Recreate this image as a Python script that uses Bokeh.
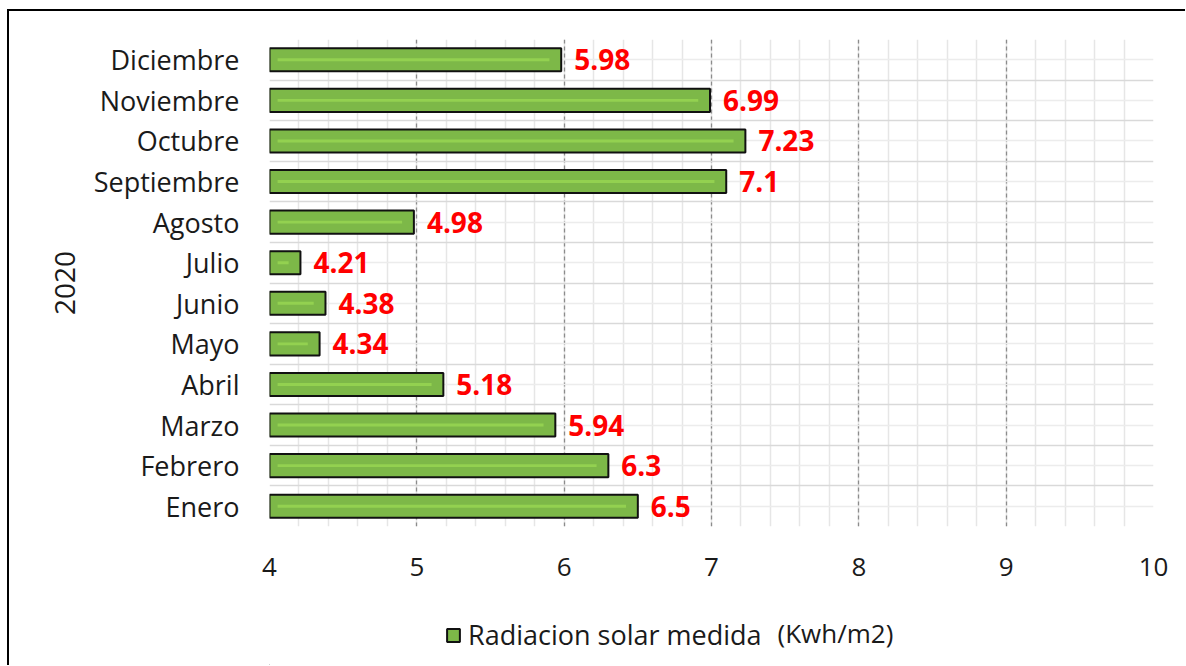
from bokeh.plotting import figure
from bokeh.layouts import column
from bokeh.models import (ColumnDataSource, FixedTicker, Grid, Legend, LegendItem,
                          LabelSet, Label, Range1d)
from bokeh.embed import file_html
from bokeh.resources import INLINE
from bokeh.core.properties import value

months = ["Enero", "Febrero", "Marzo", "Abril", "Mayo", "Junio", "Julio",
          "Agosto", "Septiembre", "Octubre", "Noviembre", "Diciembre"]
radiation = [6.5, 6.3, 5.94, 5.18, 4.34, 4.38, 4.21, 4.98, 7.1, 7.23, 6.99, 5.98]
value_labels = ["6.5", "6.3", "5.94", "5.18", "4.34", "4.38", "4.21", "4.98",
                "7.1", "7.23", "6.99", "5.98"]
x_ticks = [4, 5, 6, 7, 8, 9, 10]
y_axis_title = "2020"
series_name = "Radiacion solar medida"
series_unit = "(Kwh/m2)"

FONT = "Open Sans"
FILL = "#7db848"
n = len(months)
pos = [i + 0.5 for i in range(n)]
base = x_ticks[0]

src = ColumnDataSource(dict(
    y=pos, right=radiation, lab=value_labels,
    s_left=[base + 0.055] * n, s_right=[r - 0.08 for r in radiation],
))

W = 1176
p = figure(width=W, height=590, output_backend="svg", toolbar_location=None,
           x_range=Range1d(4, 10), y_range=Range1d(0, n),
           min_border_left=260, min_border_right=32, min_border_top=28,
           min_border_bottom=75)
p.outline_line_color = None
p.background_fill_color = "white"

# grids
p.xgrid.ticker = FixedTicker(ticks=x_ticks, minor_ticks=[4 + 0.2 * k for k in range(31)])
p.xgrid.grid_line_color = "#8c8c8c"
p.xgrid.grid_line_dash = "4 3"
p.xgrid.grid_line_width = 1.3
p.xgrid.minor_grid_line_color = "#e6e6e6"
p.xgrid.minor_grid_line_width = 1.5
p.ygrid.visible = False
hb = Grid(dimension=1, ticker=FixedTicker(ticks=list(range(n + 1)), minor_ticks=pos),
          grid_line_color="#d9d9d9", grid_line_width=1.5,
          minor_grid_line_color="#ececec", minor_grid_line_width=1.5)
p.add_layout(hb)

bars = p.hbar(y="y", right="right", left=base, height=0.57, source=src,
              fill_color=FILL, line_color="#111111", line_width=2)
p.hbar(y="y", left="s_left", right="s_right", height=0.07, source=src,
       fill_color="#93d150", line_color=None)

labels = LabelSet(x="right", y="y", text="lab", source=src, x_offset=13,
                  text_font=value(FONT), text_font_size="28px", text_font_style="bold",
                  text_color="#ff0000", text_baseline="middle")
p.add_layout(labels)

# axes
p.xaxis.ticker = FixedTicker(ticks=x_ticks)
p.xaxis.axis_line_color = None
p.xaxis.major_tick_line_color = None
p.xaxis.minor_tick_line_color = None
p.xaxis.major_tick_out = 0
p.xaxis.minor_tick_out = 0
p.xaxis.major_label_standoff = 31
p.xaxis.major_label_text_font = FONT
p.xaxis.major_label_text_font_size = "26px"
p.xaxis.major_label_text_color = "#1a1a1a"

p.yaxis.ticker = FixedTicker(ticks=pos)
p.yaxis.major_label_overrides = {pp: m for pp, m in zip(pos, months)}
p.yaxis.axis_line_color = None
p.yaxis.major_tick_line_color = None
p.yaxis.minor_tick_line_color = None
p.yaxis.major_tick_out = 0
p.yaxis.minor_tick_out = 0
p.yaxis.major_label_standoff = 30
p.yaxis.major_label_text_font = FONT
p.yaxis.major_label_text_font_size = "27px"
p.yaxis.major_label_text_color = "#1a1a1a"
p.yaxis.axis_label = y_axis_title
p.yaxis.axis_label_text_font = FONT
p.yaxis.axis_label_text_font_size = "28px"
p.yaxis.axis_label_text_font_style = "normal"
p.yaxis.axis_label_text_color = "#1a1a1a"
p.yaxis.axis_label_standoff = 16

# legend strip (separate small figure below the chart; its frame aligns with p's)
LH = 64
FW = 884
lg = figure(width=W, height=LH, output_backend="svg", toolbar_location=None,
            x_range=Range1d(0, FW), y_range=Range1d(0, LH),
            min_border=0, outline_line_color=None)
lg.axis.visible = False
lg.grid.visible = False
dummy = lg.hbar(y=[-5000], right=[-4000], left=-5000, height=1, fill_color=FILL,
                line_color="#111111", line_width=2)
legend = Legend(items=[LegendItem(label=series_name, renderers=[dummy])],
                orientation="horizontal", location=(176, 12),
                label_text_font=FONT, label_text_font_size="27px",
                label_text_color="#1a1a1a", glyph_width=16, glyph_height=16,
                border_line_color=None, background_fill_alpha=0,
                margin=0, padding=4, label_standoff=7)
lg.add_layout(legend)
lg.add_layout(Label(x=508, y=LH - 31, text=series_unit, text_font=FONT,
                    text_font_size="26px", text_color="#1a1a1a",
                    text_baseline="middle"))

layout = column(p, lg, spacing=0)
layout.styles = {"border-left": "2px solid black", "border-top": "2px solid black",
                 "margin-left": "7px", "margin-top": "9px"}

open("out.html", "w").write(file_html(layout, INLINE))
